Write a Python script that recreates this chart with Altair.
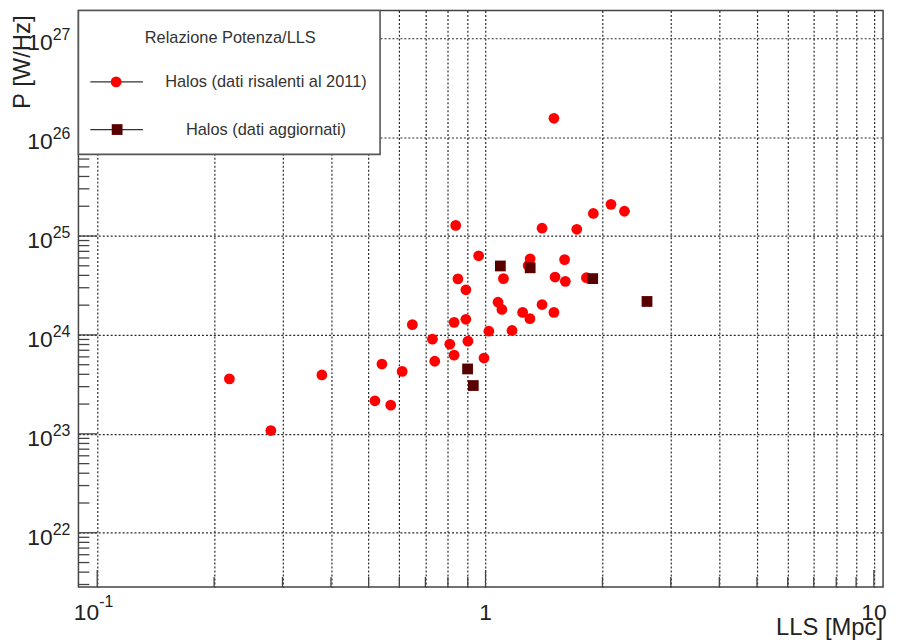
import altair as alt
import pandas as pd

# ---- data ----
RED_X = [0.838, 0.960, 0.849, 0.890, 1.112, 1.077, 1.102, 1.246, 0.648, 0.830,
         0.890, 1.020, 1.170, 0.730, 0.809, 0.901, 0.830, 0.991, 0.740, 0.541,
         0.610, 0.379, 0.219, 0.519, 0.570, 0.280, 1.500, 2.104, 2.279, 1.895,
         1.398, 1.718, 1.303, 1.598, 1.288, 1.510, 1.605, 1.819, 1.301, 1.398,
         1.500]
RED_P = [1.28e25, 6.31e24, 3.69e24, 2.86e24, 3.71e24, 2.14e24, 1.81e24, 1.69e24, 1.27e24, 1.34e24,
         1.44e24, 1.09e24, 1.11e24, 9.06e23, 8.07e23, 8.65e23, 6.25e23, 5.84e23, 5.42e23, 5.08e23,
         4.28e23, 3.94e23, 3.60e23, 2.16e23, 1.95e23, 1.08e23, 1.55e26, 2.09e25, 1.78e25, 1.69e25,
         1.20e25, 1.17e25, 5.88e24, 5.78e24, 5.04e24, 3.85e24, 3.48e24, 3.79e24, 1.46e24, 2.03e24,
         1.69e24]
SQ_X = [1.092, 1.303, 1.888, 2.605, 0.899, 0.930]
SQ_P = [4.98e24, 4.77e24, 3.71e24, 2.18e24, 4.53e23, 3.08e23]

SERIES = ["Halos (dati risalenti al 2011)", "Halos (dati aggiornati)"]
COLORS = ["#ff0000", "#580000"]
LEGEND_TITLE = "Relazione Potenza/LLS"
X_TITLE = "LLS [Mpc]"
Y_TITLE = "P [W/Hz]"

X_GRID = [0.1, 0.2, 0.3, 0.4, 0.5, 0.6, 0.7, 0.8, 0.9, 1, 2, 3, 4, 5, 6, 7, 8, 9, 10]
X_MAJOR = [0.1, 1, 10]
X_MINOR = [v for v in X_GRID if v not in X_MAJOR]
Y_MAJOR_EXP = [22, 23, 24, 25, 26, 27]
Y_MINOR_MULT = [2, 3, 4, 5, 6, 7, 8, 9]
X_DOMAIN = [0.08948, 10.56]
Y_DOMAIN = [2.835e21, 1.905e27]

W, H = 811, 581
FONT = "Liberation Sans"
TXT = "#222222"
GRIDC = "#2a2a2a"

pts = pd.DataFrame({
    "x": RED_X + SQ_X,
    "p": RED_P + SQ_P,
    "series": [SERIES[0]] * len(RED_X) + [SERIES[1]] * len(SQ_X),
})

xs = alt.Scale(type="log", domain=X_DOMAIN, nice=False)
ys = alt.Scale(type="log", domain=Y_DOMAIN, nice=False)
x_axis = alt.Axis(values=X_GRID, grid=True, gridDash=[2, 2], gridColor=GRIDC, gridWidth=1.2,
                  gridOpacity=1, labels=False, ticks=False, domain=False, title=None)
y_axis = alt.Axis(values=[10.0 ** e for e in Y_MAJOR_EXP], grid=True, gridDash=[2, 2],
                  gridColor=GRIDC, gridWidth=1.2, gridOpacity=1, labels=False, ticks=False,
                  domain=False, title=None)


def X(f="v"):
    return alt.X(f + ":Q", scale=xs, axis=x_axis)


def Y(f="v"):
    return alt.Y(f + ":Q", scale=ys, axis=y_axis)


points = alt.Chart(pts).mark_point(filled=True, opacity=1, strokeWidth=0).encode(
    x=X("x"), y=Y("p"),
    color=alt.Color("series:N", scale=alt.Scale(domain=SERIES, range=COLORS), legend=None),
    shape=alt.Shape("series:N", scale=alt.Scale(domain=SERIES, range=["circle", "square"]), legend=None),
    size=alt.value(118),
)

# ticks (inside the frame)
y_major_df = pd.DataFrame({"v": [10.0 ** e for e in Y_MAJOR_EXP]})
y_minor_df = pd.DataFrame({"v": [m * 10.0 ** e for e in range(21, 28) for m in Y_MINOR_MULT
                                 if Y_DOMAIN[0] <= m * 10.0 ** e <= Y_DOMAIN[1]]})
x_major_df = pd.DataFrame({"v": X_MAJOR})
x_minor_df = pd.DataFrame({"v": X_MINOR})

tick_style = dict(color="#444444", strokeWidth=1.3)
y_major_ticks = alt.Chart(y_major_df).mark_rule(**tick_style).encode(
    y=Y(), x=alt.value(0), x2=alt.value(19))
y_minor_ticks = alt.Chart(y_minor_df).mark_rule(**tick_style).encode(
    y=Y(), x=alt.value(0), x2=alt.value(11))
x_major_ticks = alt.Chart(x_major_df).mark_rule(**tick_style).encode(
    x=X(), y=alt.value(H), y2=alt.value(H - 17))
x_minor_ticks = alt.Chart(x_minor_df).mark_rule(**tick_style).encode(
    x=X(), y=alt.value(H), y2=alt.value(H - 10))

# tick labels
y_lab_df = pd.DataFrame({"v": [10.0 ** e for e in Y_MAJOR_EXP],
                         "base": ["10"] * len(Y_MAJOR_EXP),
                         "sup": [str(e) for e in Y_MAJOR_EXP]})
y_lab_base = alt.Chart(y_lab_df).mark_text(align="right", baseline="alphabetic", font=FONT,
                                           fontSize=23, color=TXT, dy=12).encode(
    y=Y(), x=alt.value(-26), text="base:N")
y_lab_sup = alt.Chart(y_lab_df).mark_text(align="left", baseline="alphabetic", font=FONT,
                                          fontSize=16, color=TXT, dy=2).encode(
    y=Y(), x=alt.value(-26), text="sup:N")

XLAB_Y = H + 33
x_lab_sup_df = pd.DataFrame({"v": [0.1], "base": ["10"], "sup": ["-1"]})
x_lab_plain_df = pd.DataFrame({"v": [1, 10], "base": ["1", "10"]})
x_lab_b1 = alt.Chart(x_lab_sup_df).mark_text(align="right", baseline="alphabetic", font=FONT,
                                             fontSize=23, color=TXT, dx=2).encode(
    x=X(), y=alt.value(XLAB_Y), text="base:N")
x_lab_s1 = alt.Chart(x_lab_sup_df).mark_text(align="left", baseline="alphabetic", font=FONT,
                                             fontSize=16, color=TXT, dx=2).encode(
    x=X(), y=alt.value(XLAB_Y - 13), text="sup:N")
x_lab_plain = alt.Chart(x_lab_plain_df).mark_text(align="center", baseline="alphabetic", font=FONT,
                                                  fontSize=23, color=TXT).encode(
    x=X(), y=alt.value(XLAB_Y), text="base:N")

# axis titles
x_title = alt.Chart(pd.DataFrame({"t": [X_TITLE]})).mark_text(
    align="right", baseline="alphabetic", font=FONT, fontSize=24, color=TXT).encode(
    x=alt.value(W), y=alt.value(H + 48), text="t:N")
y_title = alt.Chart(pd.DataFrame({"t": [Y_TITLE]})).mark_text(
    align="right", baseline="alphabetic", angle=270, font=FONT, fontSize=24, color=TXT).encode(
    x=alt.value(-49), y=alt.value(5), text="t:N")

# legend box
one = pd.DataFrame({"a": [0]})
leg_box = alt.Chart(one).mark_rect(fill="white", stroke="#555555", strokeWidth=1.6).encode(
    x=alt.value(0), x2=alt.value(304), y=alt.value(0), y2=alt.value(145))
leg_title = alt.Chart(pd.DataFrame({"t": [LEGEND_TITLE]})).mark_text(
    align="center", baseline="middle", font=FONT, fontSize=16.5, color="#333333").encode(
    x=alt.value(153), y=alt.value(28), text="t:N")
leg_line1 = alt.Chart(one).mark_rule(color="#333333", strokeWidth=1.3).encode(
    x=alt.value(12), x2=alt.value(65), y=alt.value(72))
leg_line2 = alt.Chart(one).mark_rule(color="#333333", strokeWidth=1.3).encode(
    x=alt.value(12), x2=alt.value(65), y=alt.value(120))
leg_mk1 = alt.Chart(one).mark_point(filled=True, shape="circle", size=118, opacity=1,
                                    color=COLORS[0], strokeWidth=0).encode(
    x=alt.value(38), y=alt.value(72))
leg_mk2 = alt.Chart(one).mark_point(filled=True, shape="square", size=118, opacity=1,
                                    color=COLORS[1], strokeWidth=0).encode(
    x=alt.value(39), y=alt.value(120))
leg_t1 = alt.Chart(pd.DataFrame({"t": [SERIES[0]]})).mark_text(
    align="center", baseline="middle", font=FONT, fontSize=16.5, color="#333333").encode(
    x=alt.value(189), y=alt.value(72), text="t:N")
leg_t2 = alt.Chart(pd.DataFrame({"t": [SERIES[1]]})).mark_text(
    align="center", baseline="middle", font=FONT, fontSize=16.5, color="#333333").encode(
    x=alt.value(189), y=alt.value(120), text="t:N")

chart = alt.layer(
    points, y_major_ticks, y_minor_ticks, x_major_ticks, x_minor_ticks,
    y_lab_base, y_lab_sup, x_lab_b1, x_lab_s1, x_lab_plain, x_title, y_title,
    leg_box, leg_title, leg_line1, leg_line2, leg_mk1, leg_mk2, leg_t1, leg_t2,
).properties(
    width=W, height=H,
    autosize=alt.AutoSizeParams(type="none"),
    padding={"left": 71, "top": 0, "right": 8, "bottom": 54},
).configure_view(stroke="#444444", strokeWidth=1.5)

chart.save("out.html", embed_options={"renderer": "svg", "actions": False})
